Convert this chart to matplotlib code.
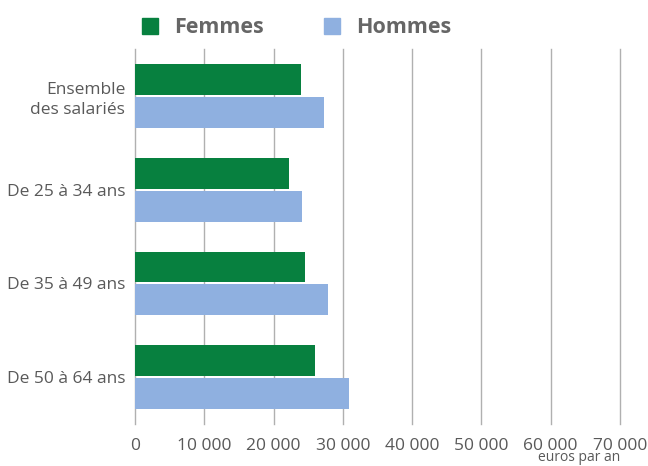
import matplotlib.pyplot as plt
from matplotlib.ticker import FuncFormatter
from matplotlib.patches import Patch

categories = ["Ensemble\ndes salariés", "De 25 à 34 ans", "De 35 à 49 ans", "De 50 à 64 ans"]
femmes = [23950, 22200, 24550, 25950]
hommes = [27300, 24100, 27850, 30950]

green = "#07803f"
blue = "#8fb0e0"
grey = "#595959"

plt.rcParams['font.family'] = ['Open Sans', 'DejaVu Sans']

fig = plt.figure(figsize=(6.48, 4.66), dpi=100)
ax = fig.add_axes([0.2083, 0.0901, 0.7485, 0.8047])

pos = list(range(len(categories)))
h = 0.33
ax.barh([p - h / 2 - 0.01 for p in pos], femmes, height=h, color=green, zorder=3)
ax.barh([p + h / 2 + 0.01 for p in pos], hommes, height=h, color=blue, zorder=3)

ax.set_ylim(3.5, -0.5)
ax.set_xlim(0, 70000)
ax.set_xticks(range(0, 70001, 10000))
ax.xaxis.set_major_formatter(FuncFormatter(lambda v, _: f"{int(v):,}".replace(",", " ") if v else "0"))
ax.set_yticks(pos)
ax.set_yticklabels(categories, ha="right", multialignment="right", linespacing=1.35)

ax.grid(axis="x", color="#b0b0b0", linewidth=1, zorder=0)
for g in ax.xaxis.get_gridlines():
    g.set_clip_on(False)
for s in ax.spines.values():
    s.set_visible(False)
ax.tick_params(axis="both", length=0, colors=grey, labelsize=12.5)
ax.tick_params(axis="x", pad=10)
ax.tick_params(axis="y", pad=7)

fig.text(0.957, 0.002, "euros par an", ha="right", va="bottom", fontsize=10, color=grey)

handles = [Patch(color=green, label="Femmes"), Patch(color=blue, label="Hommes")]
leg = fig.legend(handles=handles, loc="center", bbox_to_anchor=(0.4576, 0.94), ncol=2, frameon=False,
                 prop={"weight": "bold", "size": 15.5}, handlelength=0.75, handleheight=0.75,
                 handletextpad=0.75, columnspacing=2.8)
for t in leg.get_texts():
    t.set_color("#666666")

fig.savefig("out.png", dpi=100)
